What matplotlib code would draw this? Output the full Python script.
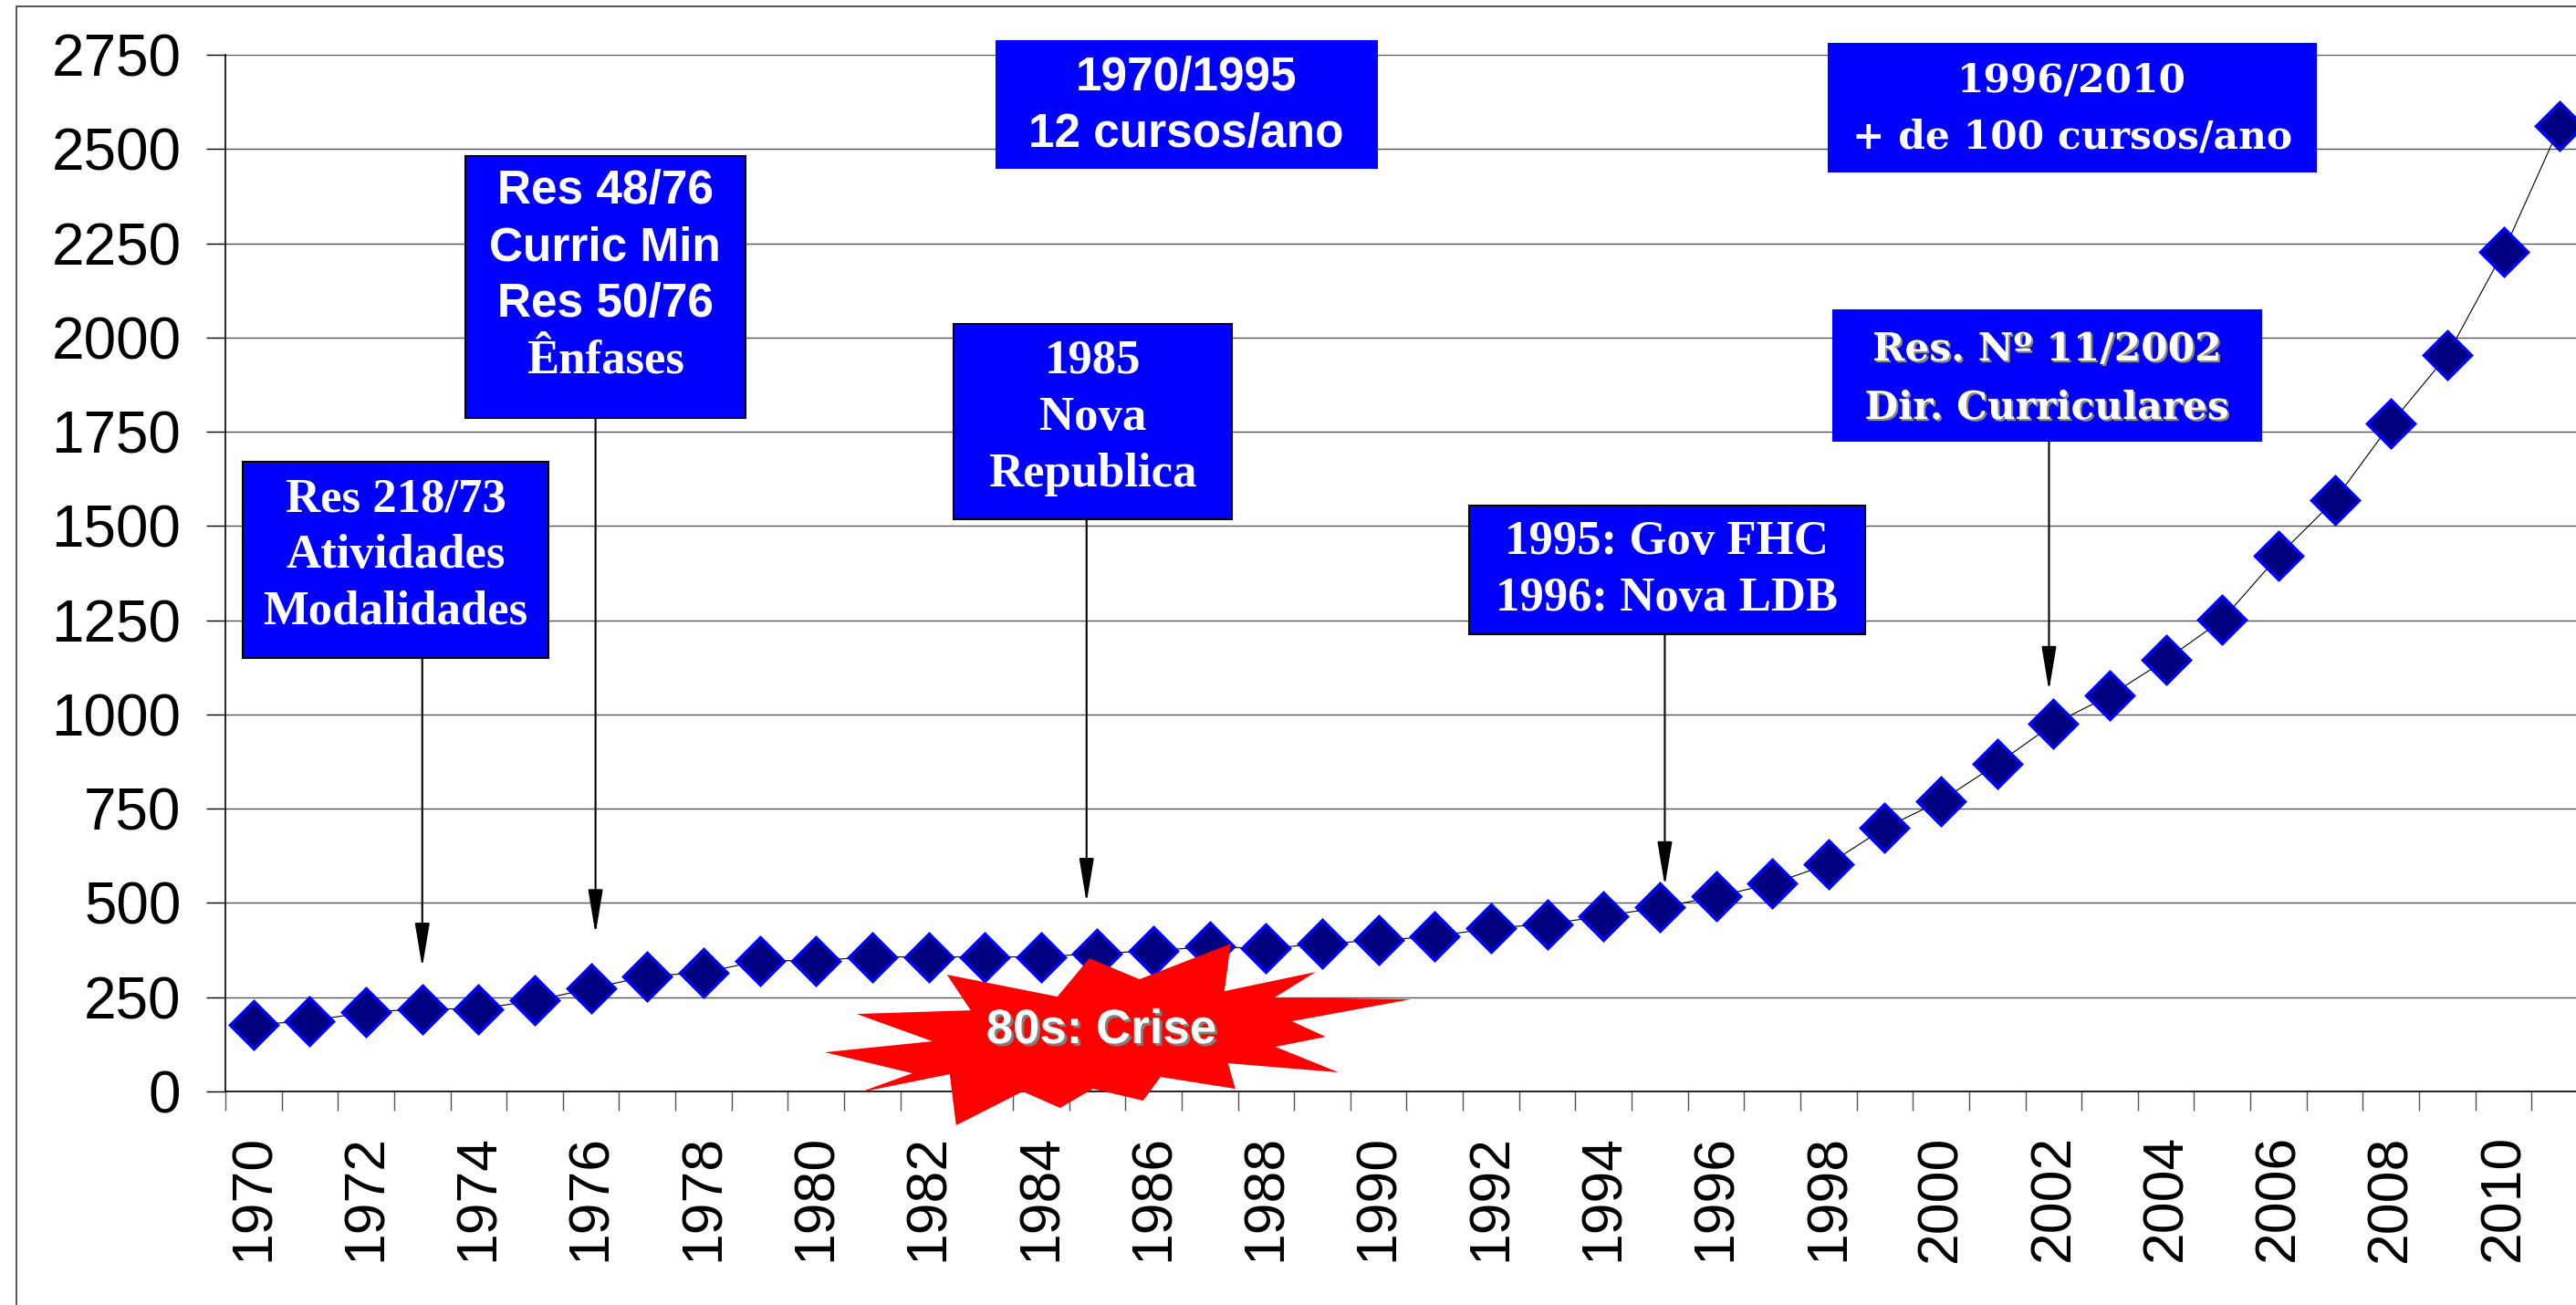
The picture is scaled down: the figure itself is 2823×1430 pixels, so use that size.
import matplotlib
matplotlib.use("Agg")
import matplotlib.pyplot as plt
import matplotlib.patheffects as pe
import matplotlib.transforms as mtransforms
from matplotlib.lines import Line2D
from matplotlib.patches import Polygon, Rectangle

YEARS = list(range(1970, 2012))
CURSOS = [177, 187, 210, 219, 219, 241, 273, 306, 315, 347, 347, 357,
          357, 357, 357, 366, 373, 384, 379, 392, 401, 411, 433, 444,
          465, 488, 517, 551, 603, 699, 771, 869, 975, 1050, 1145, 1251,
          1421, 1569, 1772, 1953, 2228, 2560]
Y_TICKS = [0, 250, 500, 750, 1000, 1250, 1500, 1750, 2000, 2250, 2500, 2750]

SANS = "Liberation Sans"
SERIF = "Liberation Serif"
WIDE = "DejaVu Serif"
BLUE = "#0000FF"
NAVY = "#000080"

# annotation boxes: box (x0, x1, y0, y1) in data units, edge colour,
# text lines (text, family, size, y), arrow (x, y_from, y_to)
NOTES = [
    dict(box=(-0.19, 5.24, 1150, 1670), edge="black",
         lines=[("Res 218/73", SERIF, 38, 1571),
                ("Atividades", SERIF, 38, 1421),
                ("Modalidades", SERIF, 38, 1273)],
         arrow=(3.0, 1150, 329)),
    dict(box=(3.76, 8.74, 1786, 2481), edge="black",
         lines=[("Res 48/76", SANS, 37, 2387),
                ("Curric Min", SANS, 37, 2237),
                ("Res 50/76", SANS, 37, 2089),
                ("Ênfases", SERIF, 38, 1939)],
         arrow=(6.08, 1800, 418)),
    dict(box=(13.20, 19.97, 2450, 2787), edge=BLUE,
         lines=[("1970/1995", SANS, 37, 2689),
                ("12 cursos/ano", SANS, 37, 2539)],
         arrow=None),
    dict(box=(12.44, 17.40, 1518, 2036), edge="black",
         lines=[("1985", SERIF, 38, 1939),
                ("Nova", SERIF, 38, 1786),
                ("Republica", SERIF, 38, 1636)],
         arrow=(14.81, 1518, 501)),
    dict(box=(21.61, 28.65, 1213, 1554), edge="black",
         lines=[("1995: Gov FHC", SERIF, 38, 1457),
                ("1996: Nova LDB", SERIF, 38, 1307)],
         arrow=(25.09, 1213, 545)),
    dict(box=(28.00, 36.66, 2440, 2779), edge=BLUE,
         lines=[("1996/2010", WIDE, 30.5, 2681),
                ("+ de 100 cursos/ano", WIDE, 30.5, 2532)],
         arrow=None),
    dict(box=(28.08, 35.69, 1726, 2072), edge=BLUE, shadow=True,
         lines=[("Res. Nº 11/2002", WIDE, 30.5, 1968),
                ("Dir. Curriculares", WIDE, 30.5, 1813)],
         arrow=(31.92, 1770, 1063)),
]

# starburst outline, pixel offsets from its centre (y down)
STAR = [(-303, 24), (-185, 12), (-268, -18), (-143, -22), (-169, -61),
        (-48, -37), (-13, -79), (42, -56), (142, -95), (135, -43),
        (235, -64), (190, -36), (339, -34), (209, -10), (246, 7),
        (191, 18), (260, 46), (139, 36), (147, 64), (65, 51), (46, 77),
        (-9, 64), (-45, 85), (-86, 67), (-159, 104), (-166, 48),
        (-265, 68), (-207, 47)]
STAR_CENTER = (15.07, 162)

plt.rcParams["font.family"] = SANS

W, H = 2823, 1430
fig = plt.figure(figsize=(W / 100, H / 100), dpi=100)
ax = fig.add_axes([247 / W, 234 / H, 2589 / W, 1136 / H])

x = list(range(len(YEARS)))
ax.plot(x, CURSOS, color="black", lw=0.8, marker="D", ms=26,
        mfc=NAVY, mec=BLUE, mew=2.5, zorder=4)

ax.set_xlim(-0.5, len(YEARS) - 0.5)
ax.set_ylim(0, 2750)
ax.set_yticks(Y_TICKS)
ax.set_yticklabels([str(v) for v in Y_TICKS], fontsize=46)
major = [i for i, yr in enumerate(YEARS) if yr % 2 == 0]
ax.set_xticks(major)
ax.set_xticklabels([str(YEARS[i]) for i in major], rotation=90, fontsize=45)
ax.set_xticks([i - 0.5 for i in range(len(YEARS) + 1)], minor=True)
ax.tick_params(axis="x", which="major", length=0, pad=34)
ax.tick_params(axis="x", which="minor", length=15, width=1, color="#555555")
ax.tick_params(axis="y", length=15, width=1, pad=20)

ax.set_axisbelow(True)
ax.yaxis.grid(True, color="#555555", lw=1.0)
for side in ("top", "right"):
    ax.spines[side].set_visible(False)
ax.spines["left"].set_linewidth(1.2)
ax.spines["bottom"].set_linewidth(1.2)

for note in NOTES:
    x0, x1, y0, y1 = note["box"]
    ax.add_patch(Rectangle((x0, y0), x1 - x0, y1 - y0, facecolor=BLUE,
                           edgecolor=note["edge"], lw=1.5, zorder=5,
                           clip_on=False))
    xc = (x0 + x1) / 2
    effects = None
    if note.get("shadow"):
        effects = [pe.withSimplePatchShadow(offset=(1.5, -1.5),
                                            shadow_rgbFace="#888888", alpha=1)]
    for text, family, size, yy in note["lines"]:
        ax.text(xc, yy, text, ha="center", va="center", color="white",
                fontweight="bold", family=family, fontsize=size, zorder=6,
                clip_on=False, path_effects=effects)
    if note["arrow"]:
        ax_, yf, yt = note["arrow"]
        ax.annotate("", xy=(ax_, yt), xytext=(ax_, yf), zorder=3,
                    arrowprops=dict(arrowstyle="-|>,head_length=1.5,head_width=0.25",
                                    color="black", lw=1.5, mutation_scale=20,
                                    shrinkA=0, shrinkB=0))

star_tr = mtransforms.Affine2D().scale(1, -1) + \
    mtransforms.ScaledTranslation(STAR_CENTER[0], STAR_CENTER[1], ax.transData)
ax.add_patch(Polygon(STAR, closed=True, facecolor="#FF0000", edgecolor="none",
                     transform=star_tr, zorder=7, clip_on=False))
ax.text(STAR_CENTER[0], STAR_CENTER[1], "80s: Crise", ha="center", va="center",
        color="white", fontweight="bold", fontsize=38, zorder=8,
        path_effects=[pe.withSimplePatchShadow(offset=(2, -2),
                                               shadow_rgbFace="#808080", alpha=1)])

# outer chart frame (left and top edges are visible)
fig.add_artist(Line2D([18 / W, 18 / W, 1], [0, 1 - 7 / H, 1 - 7 / H],
                      transform=fig.transFigure, color="#333333", lw=1.2))

fig.savefig("out.png", dpi=100)
